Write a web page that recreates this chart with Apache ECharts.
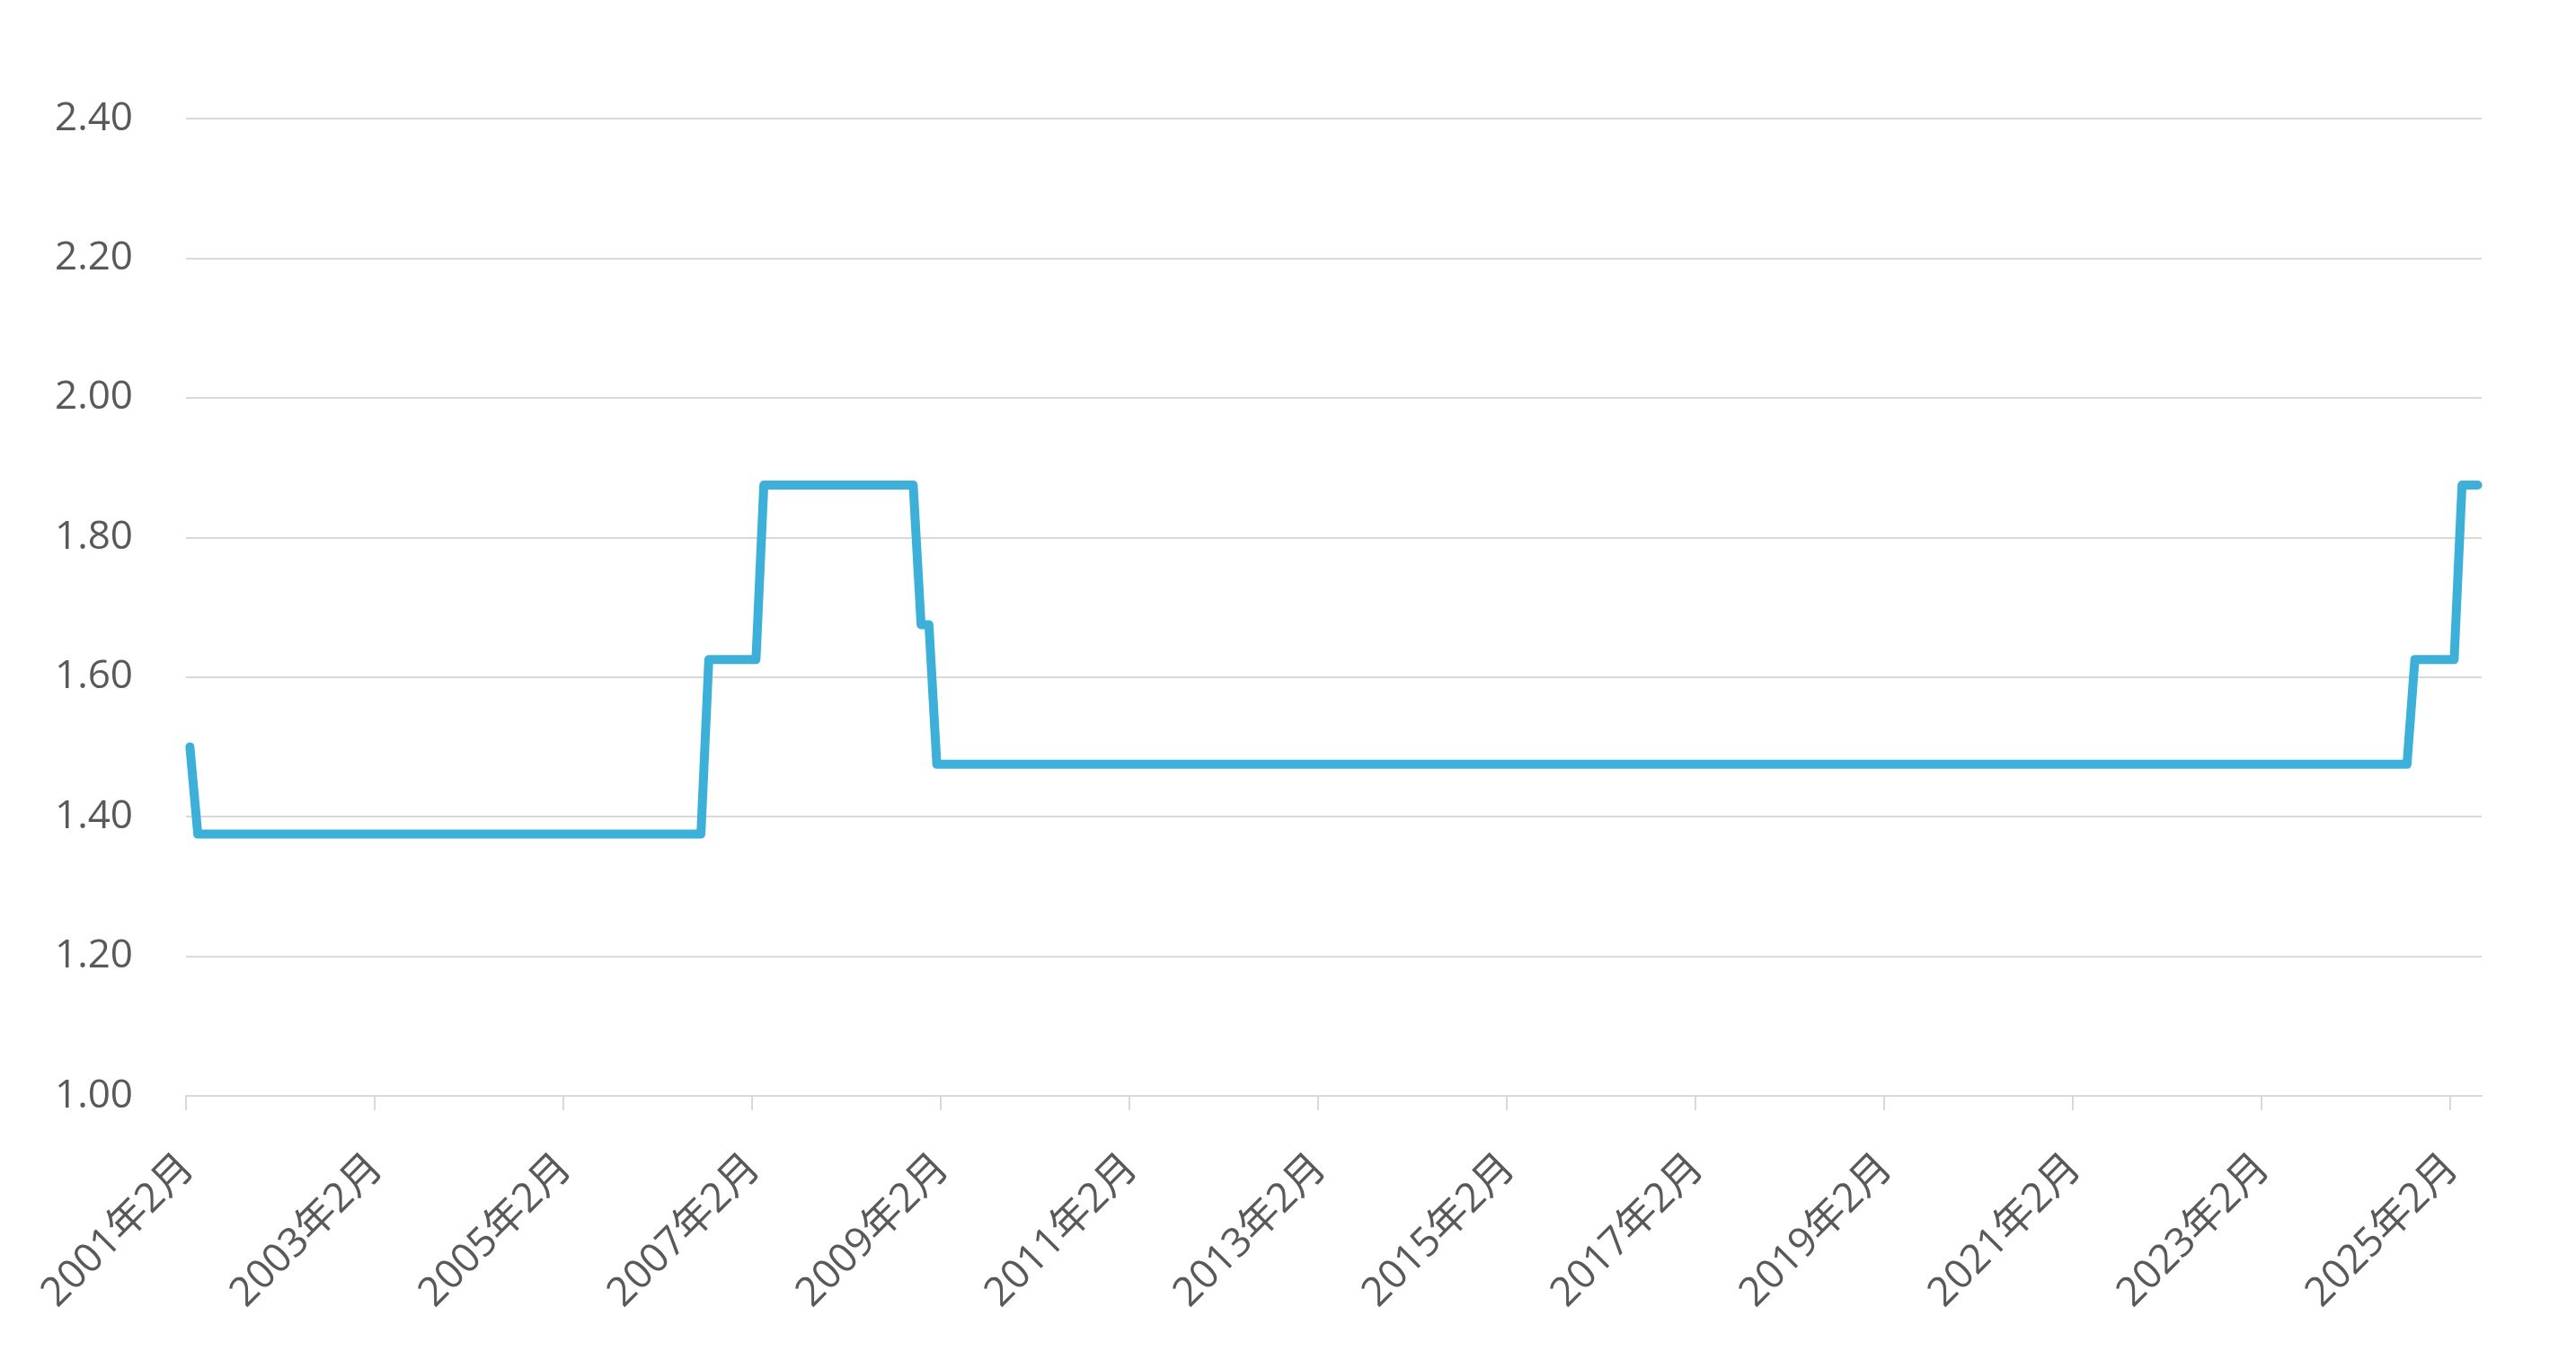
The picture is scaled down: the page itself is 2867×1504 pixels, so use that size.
<!DOCTYPE html>
<html>
<head>
<meta charset="utf-8">
<script src="https://cdn.jsdelivr.net/npm/echarts@6/dist/echarts.min.js"></script>
<style>
html,body{margin:0;padding:0;background:#fff;}
#chart{width:2867px;height:1504px;}
</style>
</head>
<body>
<div id="chart"></div>
<script>
// First month of the monthly series
const startYear = 2001;
const startMonth = 2;
const levelValues = [1.50, 1.375, 1.625, 1.875, 1.675, 1.475, 1.625, 1.875];
const levelMonths = [1, 65, 7, 20, 2, 188, 6, 3];
// Y axis ticks
const yMin = 1.0, yMax = 2.4, yStep = 0.2;
// Label / tick every 24 months
const labelEvery = 24;

const values = [];
levelValues.forEach((v, i) => { for (let k = 0; k < levelMonths[i]; k++) values.push(v); });
const categories = values.map((_, i) => {
  const m = startMonth - 1 + i;
  return (startYear + Math.floor(m / 12)) + '年' + (m % 12 + 1) + '月';
});
const tickPositions = [];
for (let i = 0; i < categories.length; i += labelEvery) tickPositions.push(i);

const font = '"Open Sans", "Noto Sans CJK SC", sans-serif';
const chart = echarts.init(document.getElementById('chart'));
chart.setOption({
  backgroundColor: '#ffffff',
  animation: false,
  grid: { left: 207, right: 105, top: 132, bottom: 284, containLabel: false },
  xAxis: [{
    type: 'category',
    data: categories,
    boundaryGap: true,
    axisLine: { lineStyle: { color: '#d9d9d9', width: 2 } },
    axisTick: { show: false },
    axisLabel: {
      interval: labelEvery - 1, rotate: 45, margin: 71,
      padding: [0, 3, 0, 0],
      color: '#595959', fontSize: 45, fontFamily: font
    },
    splitLine: { show: false }
  }, {
    type: 'value',
    position: 'bottom',
    min: 0, max: categories.length,
    axisLine: { show: false },
    axisLabel: { show: false },
    splitLine: { show: false },
    axisTick: {
      show: true, length: 16, customValues: tickPositions,
      lineStyle: { color: '#d9d9d9', width: 2 }
    }
  }],
  yAxis: {
    type: 'value',
    min: yMin, max: yMax, interval: yStep,
    axisLine: { show: false },
    axisTick: { show: false },
    axisLabel: {
      margin: 59, color: '#595959', fontSize: 44, fontFamily: font,
      formatter: v => v.toFixed(2)
    },
    splitLine: { lineStyle: { color: '#d9d9d9', width: 2 } }
  },
  series: [{
    type: 'line',
    xAxisIndex: 0,
    data: values,
    showSymbol: false,
    symbol: 'none',
    lineStyle: { color: '#3db0da', width: 10, cap: 'round', join: 'round' },
    itemStyle: { color: '#3db0da' }
  }]
});
</script>
</body>
</html>
